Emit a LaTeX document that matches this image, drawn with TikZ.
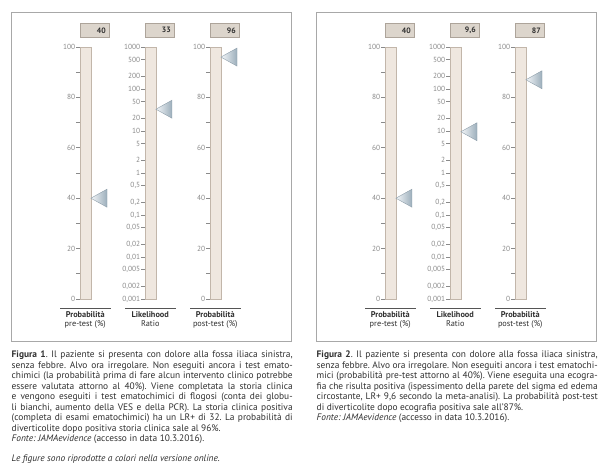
\documentclass[tikz,border=0pt]{standalone}
\usepackage{fontspec}
\setmainfont{PT Sans}
\usetikzlibrary{calc}
\definecolor{barfill}{HTML}{EFE7DF}
\definecolor{barline}{HTML}{C2B6AA}
\definecolor{valfill}{HTML}{DCD5CC}
\definecolor{valline}{HTML}{ADA49A}
\definecolor{framec}{HTML}{A8A8A8}
\definecolor{ticklbl}{HTML}{8A8A8A}
\definecolor{txt}{HTML}{303030}
\definecolor{ptrlight}{HTML}{F4F7F9}
\definecolor{ptrdark}{HTML}{9CAEBB}
\definecolor{ptrline}{HTML}{8C9DA9}
\definecolor{rulec}{HTML}{555555}
\newcommand\capfont{\fontsize{9.4}{10.45}\selectfont}
\tikzset{
  framebox/.style={draw=framec, line width=0.8pt, inner sep=0pt, minimum width=280.5pt, minimum height=329.5pt, anchor=north west},
  barbox/.style={draw=barline, fill=barfill, line width=0.6pt, inner sep=0pt, minimum width=10.5pt, minimum height=252pt, anchor=north west},
  valbox/.style={draw=valline, fill=valfill, line width=0.6pt, inner xsep=3pt, inner ysep=0pt, text width=22.5pt, align=right, minimum height=14pt, anchor=north west, font=\fontsize{7.8}{8}\selectfont\bfseries, text=txt},
  tickline/.style={draw=ticklbl, line width=0.6pt},
  ticklabel/.style={anchor=east, inner sep=0pt, text=ticklbl, font=\fontsize{7.4}{7.4}\selectfont},
  colrule/.style={draw=rulec, line width=1.2pt},
  collabel/.style={anchor=north, inner sep=0pt, align=center, text=txt, font=\fontsize{8.3}{8.8}\selectfont},
  pointer/.style={left color=ptrlight, right color=ptrdark, draw=ptrline, line width=0.4pt},
  capstyle/.style={anchor=north west, inner sep=0pt, text width=281pt, align=justify, text=txt, font=\capfont},
}
\newcommand\probcol[4]{% #1 left x, #2 name, #3 value label, #4 value
  \node[barbox] (#2bar) at (#1,47) {};
  \node[valbox] (#2val) at (#1,23) {#3};
  \foreach \v in {0,10,...,100}{
    \draw[tickline] ($(#1,299)+(-4,-2.52*\v)$) -- ($(#1,299)+(0,-2.52*\v)$);
  }
  \foreach \v in {0,20,...,100}{
    \node[ticklabel] (#2l\v) at ($(#1,299)+(-4.6,-2.52*\v)$) {\v};
  }
  \shade[pointer] ($(#1,299)+(10.9,-2.52*#4)$) -- ($(#1,299)+(27,-2.52*#4-9)$) -- ($(#1,299)+(27,-2.52*#4+9)$) -- cycle;
  \draw[colrule] ($(#1,308.5)+(-20,0)$) -- ($(#1,308.5)+(30.5,0)$);
}
\newcommand\lrcol[4]{% #1 left x, #2 name, #3 value label, #4 log10 value
  \node[barbox] (#2bar) at (#1,47) {};
  \node[valbox] (#2val) at (#1,23) {#3};
  \foreach \lab/\lg [count=\i] in {1000/3, 500/2.69897, 200/2.30103, 100/2, 50/1.69897, 20/1.30103, 10/1, 5/0.69897, 2/0.30103, 1/0, {0,5}/-0.30103, {0,2}/-0.69897, {0,1}/-1, {0,05}/-1.30103, {0,02}/-1.69897, {0,01}/-2, {0,005}/-2.30103, {0,002}/-2.69897, {0,001}/-3}{
    \draw[tickline] ($(#1,47)+(-4,42*3-42*\lg)$) -- ($(#1,47)+(0,42*3-42*\lg)$);
    \node[ticklabel] (#2l\i) at ($(#1,47)+(-4.6,42*3-42*\lg)$) {\lab};
  }
  \shade[pointer] ($(#1,47)+(10.9,126-42*#4)$) -- ($(#1,47)+(27,126-42*#4-9)$) -- ($(#1,47)+(27,126-42*#4+9)$) -- cycle;
  \draw[colrule] ($(#1,308.5)+(-20,0)$) -- ($(#1,308.5)+(30.5,0)$);
}
\begin{document}
\begin{tikzpicture}[x=1pt,y=-1pt]
\useasboundingbox (0,0) rectangle (606,473);
\fill[white] (0,0) rectangle (606,473);

% ---------- Figure 1 ----------
\node[framebox] (fa) at (10.5,12) {};
\probcol{80}{fap}{40}{40}
\lrcol{145}{falr}{33}{1.51851}
\probcol{210}{fapo}{96}{96}
\node[collabel] (fac1) at (85.25,311.5) {\textbf{Probabilità}\\pre-test (\%)};
\node[collabel] (fac2) at (150.25,311.5) {\textbf{Likelihood}\\Ratio};
\node[collabel] (fac3) at (215.25,311.5) {\textbf{Probabilità}\\post-test (\%)};

% ---------- Figure 2 ----------
\node[framebox] (fb) at (315.5,12) {};
\probcol{385}{fbp}{40}{40}
\lrcol{450}{fblr}{9,6}{0.98227}
\probcol{515}{fbpo}{87}{87}
\node[collabel] (fbc1) at (390.25,311.5) {\textbf{Probabilità}\\pre-test (\%)};
\node[collabel] (fbc2) at (455.25,311.5) {\textbf{Likelihood}\\Ratio};
\node[collabel] (fbc3) at (520.25,311.5) {\textbf{Probabilità}\\post-test (\%)};

% ---------- Captions ----------
\node[capstyle] (capa) at (11.5,351) {\capfont\frenchspacing\emergencystretch=3em
\textbf{Figura 1}. Il paziente si presenta con dolore alla fossa iliaca sinistra,\linebreak
senza febbre. Alvo ora irregolare. Non eseguiti ancora i test emato-\linebreak
chimici (la probabilità prima di fare alcun intervento clinico potrebbe\linebreak
essere valutata attorno al 40\%). Viene completata la storia clinica\linebreak
e vengono eseguiti i test ematochimici di flogosi (conta dei globu-\linebreak
li bianchi, aumento della VES e della PCR). La storia clinica positiva\linebreak
(completa di esami ematochimici) ha un LR+ di 32. La probabilità di\linebreak
diverticolite dopo positiva storia clinica sale al 96\%.\\
\textit{Fonte: JAMAevidence} (accesso in data 10.3.2016).};

\node[capstyle] (capb) at (316.5,351) {\capfont\frenchspacing\emergencystretch=3em
\textbf{Figura 2}. Il paziente si presenta con dolore alla fossa iliaca sinistra,\linebreak
senza febbre. Alvo ora irregolare. Non eseguiti ancora i test ematochi-\linebreak
mici (probabilità pre-test attorno al 40\%). Viene eseguita una ecogra-\linebreak
fia che risulta positiva (ispessimento della parete del sigma ed edema\linebreak
circostante, LR+ 9,6 secondo la meta-analisi). La probabilità post-test\linebreak
di diverticolite dopo ecografia positiva sale all’87\%.\\
\textit{Fonte: JAMAevidence} (accesso in data 10.3.2016).};

\node[anchor=north west, inner sep=0pt, text=txt, font=\capfont\itshape] (note) at (11.5,455) {Le figure sono riprodotte a colori nella versione online.};
\end{tikzpicture}
\end{document}
